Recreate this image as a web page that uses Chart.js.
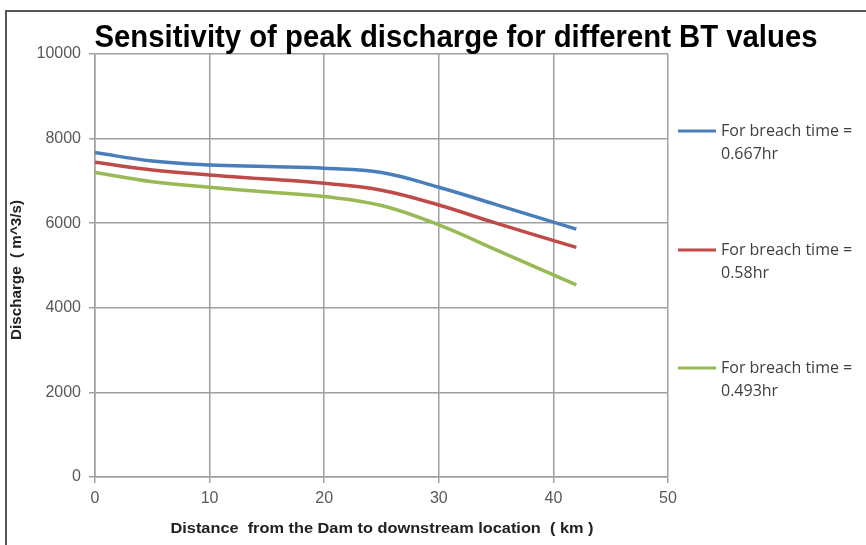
<!DOCTYPE html>
<html>
<head>
<meta charset="utf-8">
<script src="https://cdn.jsdelivr.net/npm/chart.js@4.4.1/dist/chart.umd.min.js"></script>
<style>
  html, body { margin: 0; padding: 0; background: #fff; }
  #wrap { width: 866px; height: 545px; position: relative; }
</style>
</head>
<body>
<div id="wrap"><canvas id="chart" width="866" height="545"></canvas></div>
<script>
// distance from dam (km)
const distance = [0, 5, 10, 15, 20, 25, 30, 35, 42];
// peak discharge (m^3/s) for each breach time
const bt0667 = [7670, 7470, 7375, 7340, 7300, 7200, 6850, 6440, 5860];
const bt058 = [7440, 7260, 7140, 7045, 6945, 6780, 6430, 6000, 5430];
const bt0493 = [7200, 6980, 6850, 6740, 6630, 6420, 5960, 5370, 4540];
const seriesLabels = [
  ['For breach time =', '0.667hr'],
  ['For breach time =', '0.58hr'],
  ['For breach time =', '0.493hr']
];
const xTicks = [0, 10, 20, 30, 40, 50];
const yTicks = [0, 2000, 4000, 6000, 8000, 10000];
const chartTitle = 'Sensitivity of peak discharge for different BT values';
const xTitle = 'Distance  from the Dam to downstream location  ( km )';
const yTitle = 'Discharge  ( m^3/s)';

const colors = ['#4a7ebb', '#be4b48', '#98b954'];

function pts(vals) {
  return distance.map((d, i) => ({ x: d, y: vals[i] }));
}

// draw text squeezed to a given width (reference uses a condensed font)
function fitText(ctx, text, cx, cy, width) {
  const w = ctx.measureText(text).width;
  ctx.save();
  ctx.translate(cx, cy);
  ctx.scale(width / w, 1);
  ctx.fillText(text, 0, 0);
  ctx.restore();
}

const extras = {
  id: 'extras',
  afterDraw(chart) {
    const ctx = chart.ctx;
    ctx.save();
    // outer frame
    ctx.strokeStyle = '#555';
    ctx.lineWidth = 2;
    ctx.beginPath();
    ctx.moveTo(6, 545);
    ctx.lineTo(6, 11);
    ctx.lineTo(866, 11);
    ctx.stroke();

    // title
    ctx.fillStyle = '#000';
    ctx.font = "bold 31px 'Liberation Sans', sans-serif";
    ctx.textAlign = 'center';
    ctx.textBaseline = 'middle';
    fitText(ctx, chartTitle, 456, 38, 723);

    // axis titles
    ctx.font = "bold 15px 'Liberation Sans', sans-serif";
    ctx.fillStyle = '#222';
    fitText(ctx, xTitle, 382, 529, 423);
    ctx.save();
    ctx.translate(17, 270);
    ctx.rotate(-Math.PI / 2);
    ctx.font = "bold 14px 'Liberation Sans', sans-serif";
    fitText(ctx, yTitle, 0, 0, 140);
    ctx.restore();

    // legend
    const legY = [131, 250, 368];
    ctx.font = "16px 'Open Sans', sans-serif";
    ctx.textAlign = 'left';
    ctx.fillStyle = '#404040';
    chart.data.datasets.forEach((ds, i) => {
      ctx.strokeStyle = ds.borderColor;
      ctx.lineWidth = 3;
      ctx.beginPath();
      ctx.moveTo(678, legY[i]);
      ctx.lineTo(716, legY[i]);
      ctx.stroke();
      seriesLabels[i].forEach((t, k) => {
        ctx.fillText(t, 721, legY[i] + k * 23);
      });
    });
    ctx.restore();
  }
};

const tickFont = { size: 16, family: "'Liberation Sans', sans-serif" };

const config = {
  type: 'line',
  data: {
    datasets: [bt0667, bt058, bt0493].map((v, i) => ({
      label: seriesLabels[i].join(' '),
      data: pts(v),
      borderColor: colors[i],
      backgroundColor: colors[i],
      borderWidth: 3.5,
      pointRadius: 0,
      fill: false,
      tension: 0.4
    }))
  },
  options: {
    responsive: false,
    animation: false,
    layout: { padding: { left: 0, right: 198, top: 54, bottom: 0 } },
    plugins: { legend: { display: false }, title: { display: false }, tooltip: { enabled: false } },
    scales: {
      x: {
        type: 'linear',
        min: 0,
        max: 50,
        afterFit(s) { s.height = 68; },
        afterBuildTicks(s) { s.ticks = xTicks.map(v => ({ value: v })); },
        ticks: { color: '#595959', font: tickFont, padding: 6, callback: v => String(v) },
        grid: { color: '#a0a0a0', lineWidth: 1.5, tickLength: 6 },
        border: { color: '#a0a0a0', width: 1.5 }
      },
      y: {
        min: 0,
        max: 10000,
        afterFit(s) { s.width = 95; },
        afterBuildTicks(s) { s.ticks = yTicks.map(v => ({ value: v })); },
        ticks: { color: '#595959', font: tickFont, padding: 8, callback: v => String(v) },
        grid: { color: '#a0a0a0', lineWidth: 1.5, tickLength: 6 },
        border: { color: '#a0a0a0', width: 1.5 }
      }
    }
  },
  plugins: [extras]
};

new Chart(document.getElementById('chart'), config);
</script>
</body>
</html>
